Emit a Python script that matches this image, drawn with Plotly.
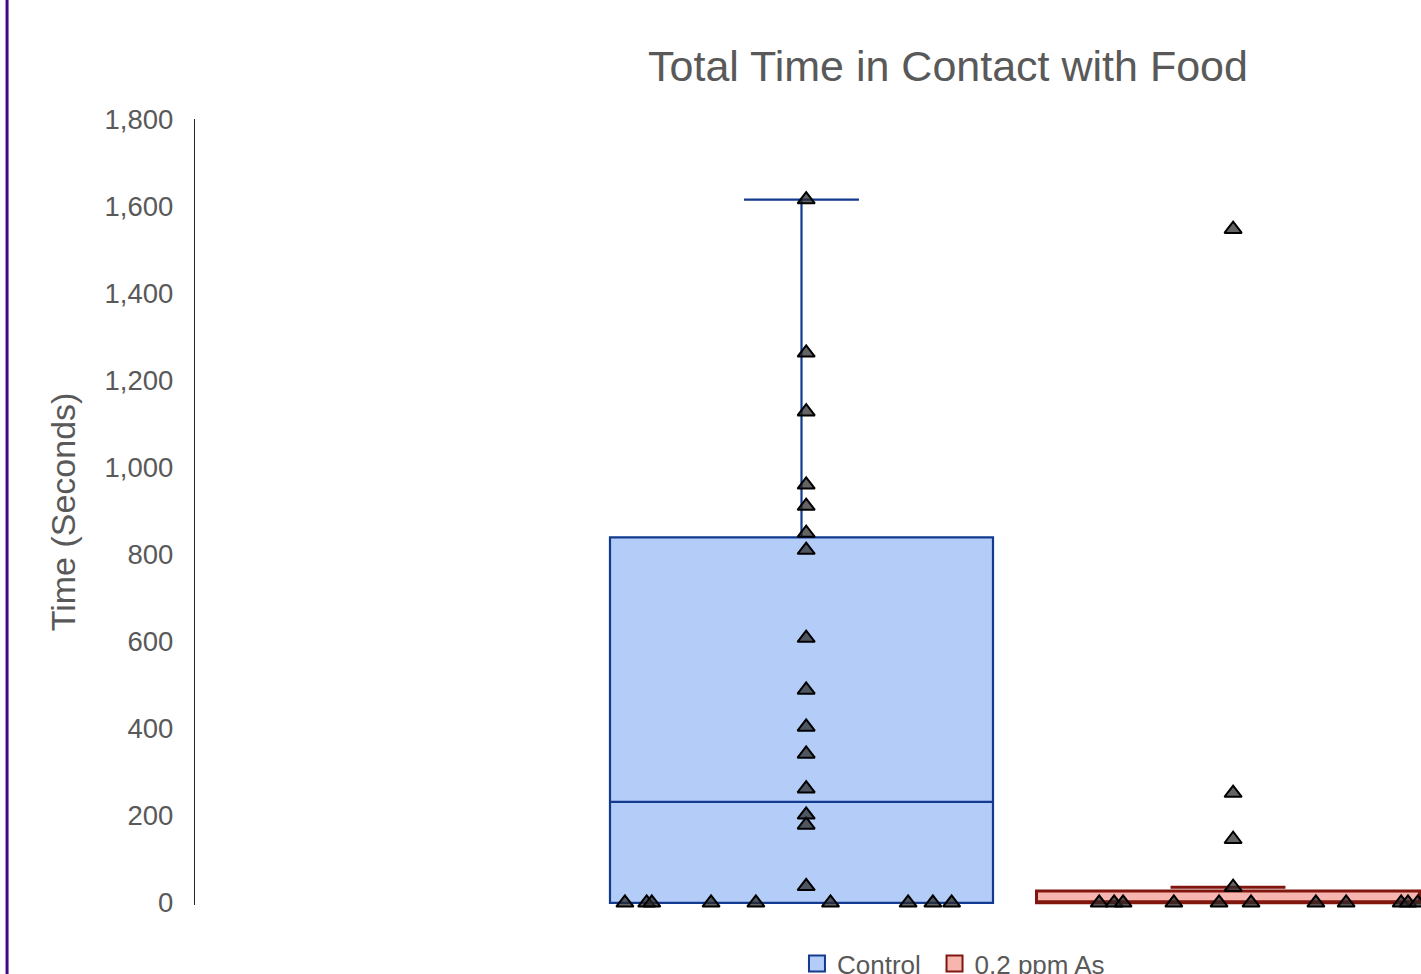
import numpy as np
import plotly.graph_objects as go

# ---- data ----
groups = ["Control", "0.2 ppm As"]
group_pos = [1, 2]

control_vals = [0, 0, 0, 0, 0, 0, 0, 0, 0,
                38, 179, 202, 262, 342, 404, 489, 608, 810, 849, 911, 960, 1128, 1263, 1615]
control_jitter = [-0.414, -0.363, -0.351, -0.212, -0.107, 0.068, 0.250, 0.308, 0.352,
                  0.011, 0.011, 0.011, 0.011, 0.011, 0.011, 0.011, 0.011, 0.011, 0.011,
                  0.011, 0.011, 0.011, 0.011, 0.011]

as_vals = [0, 0, 0, 0, 0, 0, 0, 0, 0, 0, 0, 0,
           36, 146, 252, 1547]
as_jitter = [-0.302, -0.267, -0.246, -0.127, -0.021, 0.054, 0.206, 0.277, 0.406, 0.422, 0.445, 0.470,
             0.012, 0.012, 0.012, 0.012]

y_ticks = [0, 200, 400, 600, 800, 1000, 1200, 1400, 1600, 1800]

fills = ["rgb(180,205,248)", "rgb(247,181,176)"]
lines = ["rgb(18,58,142)", "rgb(128,22,14)"]
line_w = [2.2, 3.0]
TXT = "#595959"
FONT = "Liberation Sans, Arial, sans-serif"


def box_stats(vals):
    v = np.sort(np.asarray(vals, dtype=float))
    q1 = np.percentile(v, 25, method="weibull")
    med = np.percentile(v, 50, method="weibull")
    q3 = np.percentile(v, 75, method="weibull")
    iqr = q3 - q1
    upper = v[v <= q3 + 1.5 * iqr].max()
    lower = v[v >= q1 - 1.5 * iqr].min()
    return q1, med, q3, lower, upper


fig = go.Figure()

all_vals = [control_vals, as_vals]
all_jit = [control_jitter, as_jitter]

for i in range(2):
    q1, med, q3, lo, hi = box_stats(all_vals[i])
    fig.add_trace(go.Box(
        x=[group_pos[i]], q1=[q1], median=[med], q3=[q3],
        lowerfence=[lo], upperfence=[hi],
        width=0.898, whiskerwidth=0.3,
        fillcolor=fills[i], line=dict(color=lines[i], width=line_w[i]),
        boxpoints=False, showlegend=False, hoverinfo="skip",
    ))

for i in range(2):
    xs = [group_pos[i] + j for j in all_jit[i]]
    fig.add_trace(go.Scatter(
        x=xs, y=all_vals[i], mode="markers", showlegend=False, cliponaxis=False,
        marker=dict(symbol="triangle-up", size=15, color="rgba(40,40,40,0.72)",
                    line=dict(color="black", width=2)),
    ))

# legend entries (one legend per entry so the spacing matches)
legend_ids = ["legend", "legend2"]
for i in range(2):
    fig.add_trace(go.Scatter(
        x=[None], y=[None], mode="markers", name=groups[i], legend=legend_ids[i],
        marker=dict(symbol="square", size=19, color=fills[i],
                    line=dict(color=lines[i], width=2)),
    ))

leg_common = dict(orientation="h", xanchor="left", y=-0.0445, yanchor="top",
                  font=dict(size=26, color=TXT, family=FONT), bgcolor="rgba(0,0,0,0)")

fig.update_layout(
    width=1421, height=974,
    margin=dict(l=195, r=0, t=118.5, b=69.2, autoexpand=False),
    paper_bgcolor="white", plot_bgcolor="white",
    boxmode="overlay",
    font=dict(family=FONT, color=TXT),
    title=dict(text="Total Time in Contact with Food", x=948 / 1421, xanchor="center",
               xref="container", y=1 - 66 / 974, yanchor="middle", yref="container",
               font=dict(size=43, color=TXT, family=FONT)),
    xaxis=dict(range=[-0.422, 2.4525], visible=False, showgrid=False, zeroline=False),
    yaxis=dict(range=[-5, 1800], tickvals=y_ticks, tickformat=",d",
               showgrid=False, zeroline=False, showline=True, linecolor="#262626", linewidth=1.3,
               ticks="", ticklabelstandoff=15,
               tickfont=dict(size=27.5, color=TXT, family=FONT),
               title=dict(text="Time (Seconds)", standoff=18,
                          font=dict(size=34, color=TXT, family=FONT))),
    legend=dict(x=0.4910, **leg_common),
    legend2=dict(x=0.6032, **leg_common),
    shapes=[dict(type="line", xref="paper", yref="paper", x0=-0.1533, x1=-0.1533,
                 y0=-0.2, y1=1.3, line=dict(color="rgb(62,10,135)", width=3))],
)

fig.write_html("out.html", config={"displayModeBar": False},
               post_script="document.body.style.margin='0';document.body.style.overflow='hidden';")
